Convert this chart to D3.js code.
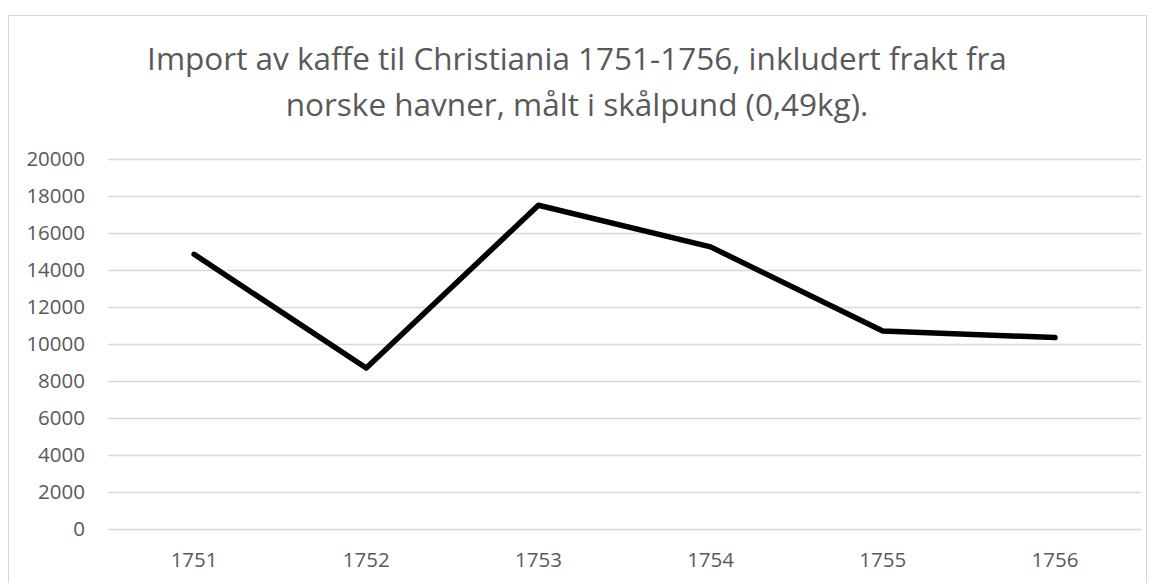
<!DOCTYPE html>
<html>
<head>
<meta charset="utf-8">
<script src="https://cdn.jsdelivr.net/npm/d3@7"></script>
<style>
  body { margin: 0; background: #fff; }
  text { font-family: "Open Sans", sans-serif; fill: #595959; }
</style>
</head>
<body>
<div id="chart"></div>
<script>
// data
const years = ['1751', '1752', '1753', '1754', '1755', '1756'];
const pounds = [14850, 8700, 17500, 15250, 10700, 10350];
const yTicks = [0, 2000, 4000, 6000, 8000, 10000, 12000, 14000, 16000, 18000, 20000];
const titleLines = [
  'Import av kaffe til Christiania 1751-1756, inkludert frakt fra',
  'norske havner, målt i skålpund (0,49kg).'
];

const width = 1155, height = 583;
const margin = {left: 108, right: 14, top: 159, bottom: 54};

const svg = d3.select('#chart').append('svg')
  .attr('width', width)
  .attr('height', height);

// chart border
svg.append('rect')
  .attr('x', 8.5).attr('y', 15.5)
  .attr('width', 1138).attr('height', 600)
  .attr('fill', 'none')
  .attr('stroke', '#d9d9d9');

const x = d3.scaleBand()
  .domain(years)
  .range([margin.left, width - margin.right]);

const y = d3.scaleLinear()
  .domain([0, 20000])
  .range([height - margin.bottom, margin.top]);

// gridlines
svg.append('g')
  .selectAll('line')
  .data(yTicks)
  .enter().append('line')
  .attr('x1', margin.left)
  .attr('x2', width - margin.right)
  .attr('y1', d => Math.round(y(d)) + 0.5)
  .attr('y2', d => Math.round(y(d)) + 0.5)
  .attr('stroke', '#d9d9d9')
  .attr('stroke-width', 1.3);

// y labels
svg.append('g')
  .selectAll('text')
  .data(yTicks)
  .enter().append('text')
  .attr('x', 85)
  .attr('y', d => y(d))
  .attr('dy', '0.35em')
  .attr('text-anchor', 'end')
  .style('font-size', '20.5px')
  .text(d => d);

// x labels
svg.append('g')
  .selectAll('text')
  .data(years)
  .enter().append('text')
  .attr('x', d => x(d) + x.bandwidth() / 2)
  .attr('y', 567)
  .attr('text-anchor', 'middle')
  .style('font-size', '20.5px')
  .text(d => d);

// the line
const line = d3.line()
  .x((d, i) => x(years[i]) + x.bandwidth() / 2)
  .y(d => y(d));

svg.append('path')
  .datum(pounds)
  .attr('d', line)
  .attr('fill', 'none')
  .attr('stroke', '#000')
  .attr('stroke-width', 5.5)
  .attr('stroke-linejoin', 'round')
  .attr('stroke-linecap', 'round');

// title
svg.append('g')
  .selectAll('text')
  .data(titleLines)
  .enter().append('text')
  .attr('x', 577)
  .attr('y', (d, i) => 70 + i * 46)
  .attr('text-anchor', 'middle')
  .style('font-size', '31.5px')
  .text(d => d);
</script>
</body>
</html>
